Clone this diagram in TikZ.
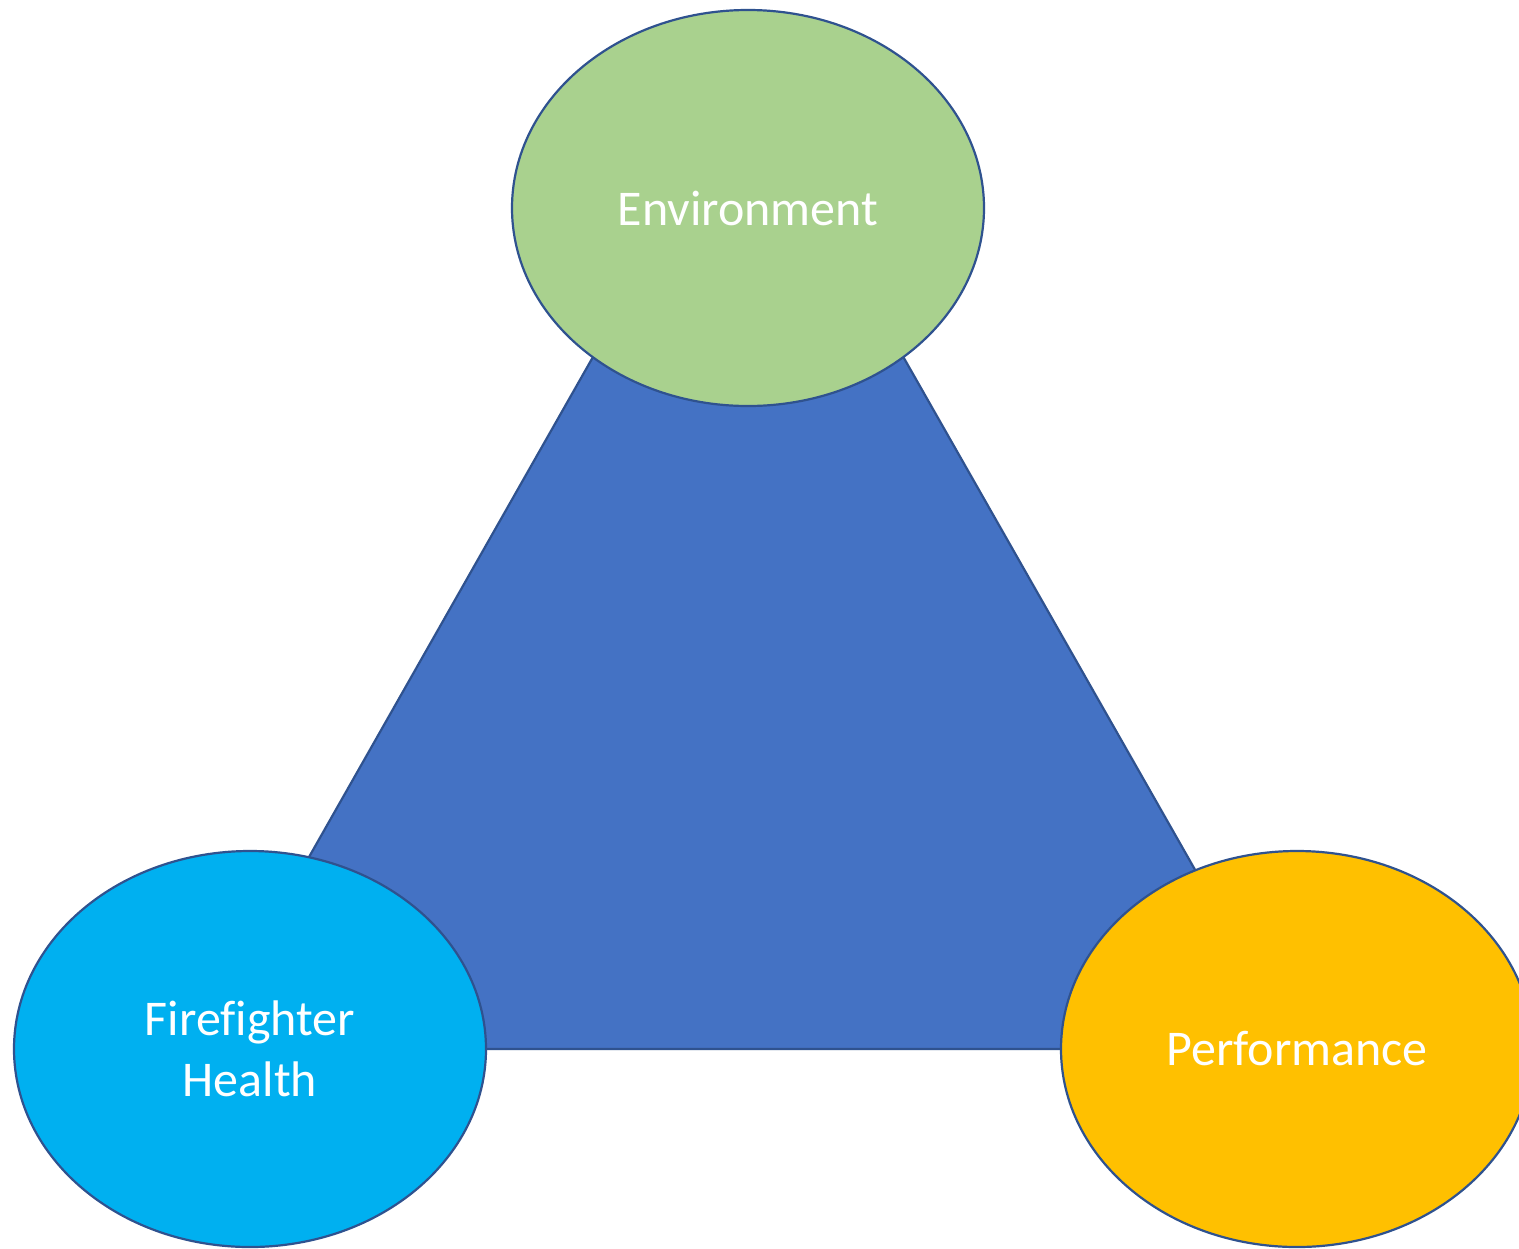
\documentclass[tikz,border=0pt]{standalone}
\usepackage{fontspec}
\setmainfont[Ligatures=NoCommon]{Carlito}
\definecolor{envgreen}{HTML}{A9D18E}
\definecolor{healthblue}{HTML}{00B0F0}
\definecolor{perfgold}{HTML}{FFC000}
\definecolor{triblue}{HTML}{4472C4}
\definecolor{edgeblue}{HTML}{2F528F}
\tikzset{
  factor/.style={ellipse, draw=edgeblue, line width=1.1pt, text=white,
    minimum width=236pt, minimum height=198pt, inner sep=0pt,
    align=center, font=\fontsize{25}{30.5}\selectfont}
}
\usetikzlibrary{shapes.geometric}
\begin{document}
\begin{tikzpicture}[x=0.5pt,y=-0.5pt]
\useasboundingbox (0,0) rectangle (1519,1248);
\clip (0,0) rectangle (1519,1248);
\fill[white] (0,0) rectangle (1519,1248);

\coordinate (top) at (748,84);
\coordinate (left) at (200,1049);
\coordinate (right) at (1297,1049);
\draw[fill=triblue, draw=edgeblue, line width=1.1pt] (top) -- (left) -- (right) -- cycle;

\node[factor, fill=envgreen] (env) at (748,208) {Environment};
\node[factor, fill=healthblue] (health) at (250,1049) {Firefighter\\Health};
\node[factor, fill=perfgold] (perf) at (1297,1049) {Performance};
\end{tikzpicture}
\end{document}
